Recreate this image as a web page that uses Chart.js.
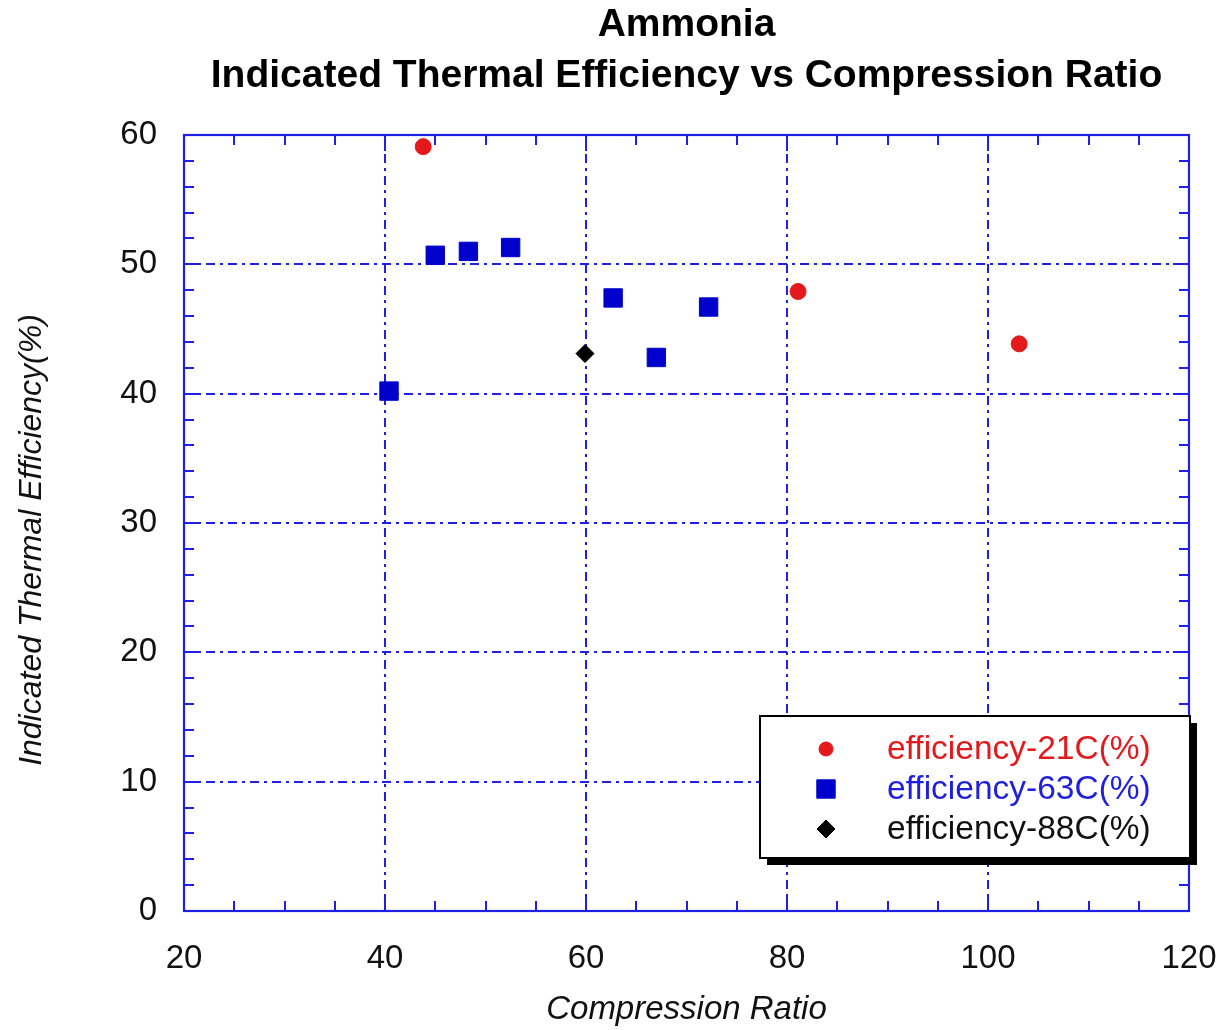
<!DOCTYPE html>
<html>
<head>
<meta charset="utf-8">
<title>Ammonia - Indicated Thermal Efficiency vs Compression Ratio</title>
<script src="https://cdn.jsdelivr.net/npm/chart.js@4.4.1/dist/chart.umd.min.js"></script>
<style>
  html, body { margin: 0; padding: 0; background: #fff; }
  canvas { display: block; }
</style>
</head>
<body>
<canvas id="chart" width="1216" height="1030"></canvas>
<script>
// data
const ratio21 = [43.8, 81.1, 103.1];
const eff21 = [59.1, 47.9, 43.85];

const ratio63 = [40.4, 45.0, 48.3, 52.5, 62.7, 67.0, 72.2];
const eff63 = [40.2, 50.7, 51.0, 51.3, 47.4, 42.8, 46.7];

const ratio88 = [59.9];
const eff88 = [43.1];

const seriesNames = ['efficiency-21C(%)', 'efficiency-63C(%)', 'efficiency-88C(%)'];
const xTicks = [20, 40, 60, 80, 100, 120];
const yTicks = [0, 10, 20, 30, 40, 50, 60];

const FONT = "'Liberation Sans', Arial, Helvetica, sans-serif";
const AXIS_BLUE = '#1f1fe6';

const toPoints = (xs, ys) => xs.map((x, i) => ({ x: x, y: ys[i] }));

// dash-dot grid, box frame, inward ticks on all four sides
const framePlugin = {
  id: 'frame',
  beforeDatasetsDraw(chart) {
    const { ctx, chartArea: a, scales: { x, y } } = chart;
    ctx.save();
    ctx.strokeStyle = AXIS_BLUE;

    ctx.lineWidth = 2;
    ctx.setLineDash([9, 5, 3, 5]);
    xTicks.slice(1, -1).forEach(v => {
      const px = Math.round(x.getPixelForValue(v));
      ctx.beginPath(); ctx.moveTo(px, a.bottom); ctx.lineTo(px, a.top); ctx.stroke();
    });
    yTicks.slice(1, -1).forEach(v => {
      const py = Math.round(y.getPixelForValue(v));
      ctx.beginPath(); ctx.moveTo(a.left, py); ctx.lineTo(a.right, py); ctx.stroke();
    });
    ctx.setLineDash([]);

    ctx.lineWidth = 2;
    for (let v = xTicks[0]; v <= xTicks[xTicks.length - 1]; v += 5) {
      const px = Math.round(x.getPixelForValue(v));
      const len = v % 20 === 0 ? 16 : 10;
      ctx.beginPath();
      ctx.moveTo(px, a.bottom); ctx.lineTo(px, a.bottom - len);
      ctx.moveTo(px, a.top); ctx.lineTo(px, a.top + len);
      ctx.stroke();
    }
    for (let v = yTicks[0]; v <= yTicks[yTicks.length - 1]; v += 2) {
      const py = Math.round(y.getPixelForValue(v));
      const len = v % 10 === 0 ? 16 : 10;
      ctx.beginPath();
      ctx.moveTo(a.left, py); ctx.lineTo(a.left + len, py);
      ctx.moveTo(a.right, py); ctx.lineTo(a.right - len, py);
      ctx.stroke();
    }
    ctx.lineWidth = 2.2;
    ctx.strokeRect(a.left, a.top, a.right - a.left, a.bottom - a.top);
    ctx.restore();
  }
};

// y axis title, placed a bit below the plot centre like the original
const yTitlePlugin = {
  id: 'yTitle',
  afterDraw(chart) {
    const { ctx, chartArea: a } = chart;
    ctx.save();
    ctx.translate(32, (a.top + a.bottom) / 2 + 17);
    ctx.rotate(-Math.PI / 2);
    ctx.font = 'italic 32px ' + FONT;
    ctx.fillStyle = '#111';
    ctx.textAlign = 'center';
    ctx.textBaseline = 'middle';
    ctx.fillText('Indicated Thermal Efficiency(%)', 0, 0);
    ctx.restore();
  }
};

// boxed legend with drop shadow inside the plot, bottom right
const legendPlugin = {
  id: 'boxLegend',
  afterDraw(chart) {
    const { ctx, chartArea: a } = chart;
    const w = 430, h = 142;
    const left = a.right - w + 1, top = a.bottom - 53 - h;
    ctx.save();
    ctx.fillStyle = '#000';
    ctx.fillRect(left + 7, top + 7, w, h);
    ctx.fillStyle = '#fff';
    ctx.fillRect(left, top, w, h);
    ctx.strokeStyle = '#000';
    ctx.lineWidth = 2;
    ctx.strokeRect(left, top, w, h);

    ctx.font = '33.5px ' + FONT;
    ctx.textAlign = 'left';
    ctx.textBaseline = 'middle';
    chart.data.datasets.forEach((ds, i) => {
      const cy = top + 33 + i * 40;
      const mx = left + 66;
      ctx.fillStyle = ds.backgroundColor;
      ctx.strokeStyle = ds.borderColor;
      ctx.lineWidth = 1;
      Chart.helpers.drawPoint(ctx, {
        pointStyle: ds.pointStyle,
        radius: ds.legendRadius,
        borderWidth: 1,
        rotation: 0
      }, mx, cy);
      ctx.fillStyle = ds.textColor;
      ctx.fillText(ds.label, left + 127, cy + 1);
    });
    ctx.restore();
  }
};

new Chart(document.getElementById('chart'), {
  type: 'scatter',
  data: {
    datasets: [
      {
        label: seriesNames[0],
        data: toPoints(ratio21, eff21),
        pointStyle: 'circle',
        pointRadius: 8,
        backgroundColor: '#e3191c',
        borderColor: '#e3191c',
        textColor: '#e3191c',
        legendRadius: 7
      },
      {
        label: seriesNames[1],
        data: toPoints(ratio63, eff63),
        pointStyle: 'rect',
        pointRadius: 13,
        backgroundColor: '#0000cc',
        borderColor: '#0000cc',
        textColor: '#1f1fe0',
        legendRadius: 13
      },
      {
        label: seriesNames[2],
        data: toPoints(ratio88, eff88),
        pointStyle: 'rectRot',
        pointRadius: 9,
        backgroundColor: '#000',
        borderColor: '#000',
        textColor: '#111',
        legendRadius: 9
      }
    ]
  },
  options: {
    responsive: false,
    devicePixelRatio: 1,
    animation: false,
    layout: { padding: { left: 0, right: 0, top: 0, bottom: 0 } },
    plugins: {
      legend: { display: false },
      tooltip: { enabled: false },
      title: {
        display: true,
        fullSize: false,
        text: ['Ammonia', 'Indicated Thermal Efficiency vs Compression Ratio'],
        color: '#000',
        font: { family: FONT, size: 39, weight: 'bold', lineHeight: 51 / 39 },
        padding: { top: 0, bottom: 33 }
      }
    },
    scales: {
      x: {
        type: 'linear',
        min: 20,
        max: 120,
        afterFit(scale) {
          scale.height = 119;
          scale.paddingRight = 27;
        },
        afterBuildTicks(scale) { scale.ticks = xTicks.map(v => ({ value: v })); },
        grid: { display: false, drawTicks: false },
        border: { display: false },
        ticks: {
          padding: 28,
          color: '#111',
          font: { family: FONT, size: 33 },
          maxRotation: 0
        },
        title: {
          display: true,
          text: 'Compression Ratio',
          color: '#111',
          font: { family: FONT, size: 33, style: 'italic' },
          padding: { top: 0, bottom: 0 }
        }
      },
      y: {
        type: 'linear',
        min: 0,
        max: 60,
        afterFit(scale) { scale.width = 184; },
        afterBuildTicks(scale) { scale.ticks = yTicks.map(v => ({ value: v })); },
        grid: { display: false, drawTicks: false },
        border: { display: false },
        ticks: {
          padding: 27,
          color: '#111',
          font: { family: FONT, size: 33 }
        }
      }
    }
  },
  plugins: [framePlugin, yTitlePlugin, legendPlugin]
});
</script>
</body>
</html>
